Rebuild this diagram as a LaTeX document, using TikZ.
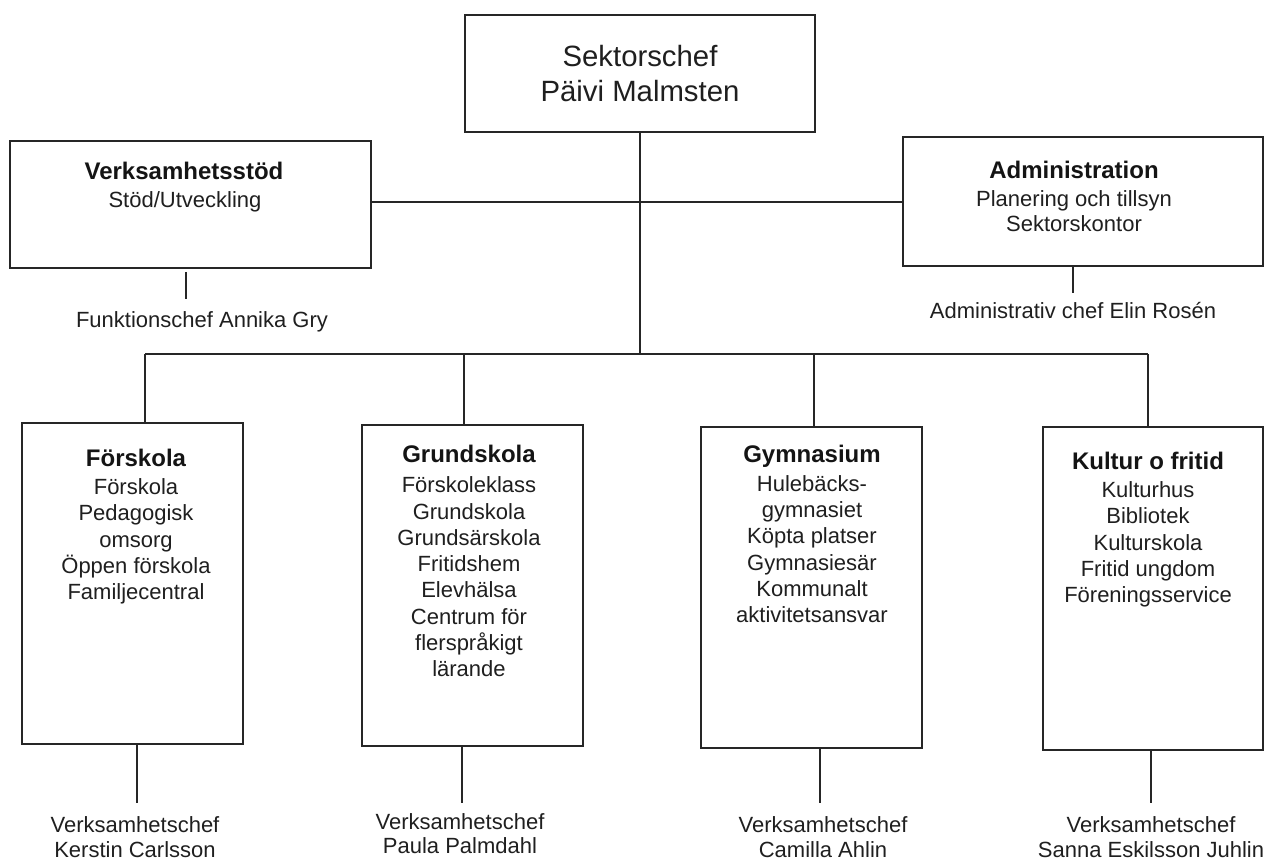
\documentclass[tikz,border=0pt]{standalone}
\usepackage{fontspec}
\setmainfont{Liberation Sans}
\begin{document}
\begin{tikzpicture}[x=0.75pt,y=-0.75pt,
  box/.style={draw=black!85, line width=1.1pt, inner sep=0pt, fill=white},
  conn/.style={draw=black!85, line width=1.1pt},
  body/.style={font=\fontsize{16.5}{19.75}\selectfont, align=center, inner sep=0pt, anchor=base, text=black!88},
  chef/.style={font=\fontsize{16.5}{18.5}\selectfont, align=center, inner sep=0pt, anchor=base, text=black!88},
  ttl/.style={font=\fontsize{18}{21}\selectfont\bfseries, align=center, inner sep=0pt, anchor=base, text=black!92},
  big/.style={font=\fontsize{22}{26.25}\selectfont, align=center, inner sep=0pt, anchor=base, text=black!88}]
\useasboundingbox (0,0) rectangle (1265,862);

% coordinates for connector routing
\coordinate (hc) at (640,202);
\coordinate (bus) at (640,354);
\coordinate (b1) at (145,354);
\coordinate (b2) at (464,354);
\coordinate (b3) at (814,354);
\coordinate (b4) at (1148,354);
\coordinate (d1) at (137,803);
\coordinate (d2) at (462,803);
\coordinate (d3) at (820,803);
\coordinate (d4) at (1151,803);
\coordinate (vsd0) at (186,272);
\coordinate (vsd) at (186,299);
\coordinate (admd) at (1073,293);

% boxes
\node[box, minimum width=262.5pt, minimum height=87.75pt] (top) at (640,73.5) {};
\node[box, minimum width=270.75pt, minimum height=95.25pt] (vs) at (190.5,204.5) {};
\node[box, minimum width=270pt, minimum height=96.75pt] (adm) at (1083,201.5) {};
\node[box, minimum width=165.75pt, minimum height=240.75pt] (fors) at (132.5,583.5) {};
\node[box, minimum width=165.75pt, minimum height=240.75pt] (grund) at (472.5,585.5) {};
\node[box, minimum width=165.75pt, minimum height=240.75pt] (gym) at (811.5,587.5) {};
\node[box, minimum width=165pt, minimum height=242.25pt] (kult) at (1153,588.5) {};

% connectors
\draw[conn] (vs.east |- hc) -- (adm.west |- hc);
\draw[conn] (top.south) -- (bus);
\draw[conn] (b1) -- (b4);
\draw[conn] (b1) -- (b1 |- fors.north);
\draw[conn] (b2) -- (b2 |- grund.north);
\draw[conn] (b3) -- (b3 |- gym.north);
\draw[conn] (b4) -- (b4 |- kult.north);
\draw[conn] (d1 |- fors.south) -- (d1);
\draw[conn] (d2 |- grund.south) -- (d2);
\draw[conn] (d3 |- gym.south) -- (d3);
\draw[conn] (d4 |- kult.south) -- (d4);
\draw[conn] (vsd0) -- (vsd);
\draw[conn] (admd |- adm.south) -- (admd);

% texts (multi-line nodes are anchored at the baseline of their last line)
\node[big] (toptxt) at (640,102) {Sektorschef\\Päivi Malmsten};

\node[ttl] (vst) at (184,180) {Verksamhetsstöd};
\node[body] (vsb) at (185,208) {Stöd/Utveckling};
\node[body] (vsc) at (202,328) {Funktionschef Annika Gry};

\node[ttl] (admt) at (1074,179) {Administration};
\node[body, font=\fontsize{16.5}{18.75}\selectfont] (admb) at (1074,232) {Planering och tillsyn\\Sektorskontor};
\node[body] (admc) at (1073,319) {Administrativ chef Elin Rosén};

\node[ttl] (forst) at (136,467) {Förskola};
\node[body] (forsb) at (136,600) {Förskola\\Pedagogisk\\omsorg\\Öppen förskola\\Familjecentral};
\node[chef] (forsc) at (135,857) {Verksamhetschef\\Kerstin Carlsson};

\node[ttl] (grundt) at (469,463) {Grundskola};
\node[body] (grundb) at (469,677) {Förskoleklass\\Grundskola\\Grundsärskola\\Fritidshem\\Elevhälsa\\Centrum för\\flerspråkigt\\lärande};
\node[chef] (grundc) at (460,854) {Verksamhetschef\\Paula Palmdahl};

\node[ttl] (gymt) at (812,463) {Gymnasium};
\node[body] (gymb) at (812,623) {Hulebäcks-\\gymnasiet\\Köpta platser\\Gymnasiesär\\Kommunalt\\aktivitetsansvar};
\node[chef] (gymc) at (823,857) {Verksamhetschef\\Camilla Ahlin};

\node[ttl] (kultt) at (1148,470) {Kultur o fritid};
\node[body] (kultb) at (1148,603) {Kulturhus\\Bibliotek\\Kulturskola\\Fritid ungdom\\Föreningsservice};
\node[chef] (kultc) at (1151,857) {Verksamhetschef\\Sanna Eskilsson Juhlin};
\end{tikzpicture}
\end{document}
